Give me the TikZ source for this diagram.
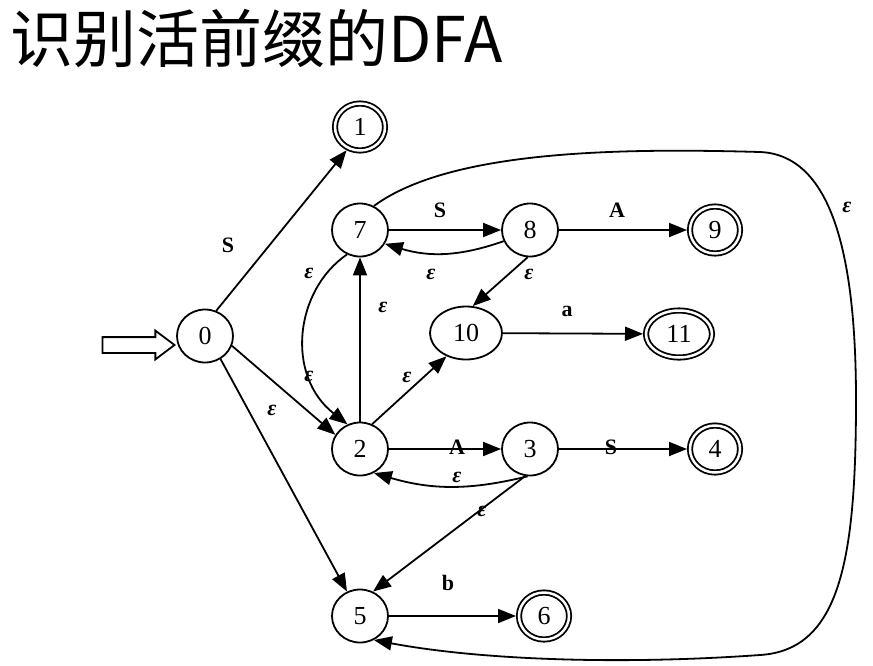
\documentclass[tikz,border=0pt]{standalone}
\usepackage{fontspec}
\setmainfont{Liberation Serif}
\newfontfamily\cjk{Noto Sans CJK SC}
\usepackage{amsmath, amssymb}
\usetikzlibrary{arrows.meta}
\usetikzlibrary{shapes.geometric}
\usetikzlibrary{shapes.arrows}
\def\eps{\textit{ε}}

\begin{document}
\begin{tikzpicture}
	[x=1pt, y=-1pt,
	state/.style={draw, ellipse, line width=1.8pt, minimum width=56pt, minimum height=53pt,
		inner sep=0pt, font=\fontsize{26}{26}\selectfont},
	final/.style={state, double, double distance=2.5pt, minimum width=50pt, minimum height=47pt,
		outer sep=3pt},
	wide/.style={minimum width=72pt},
	trans/.style={-{Triangle[length=18pt,width=14pt]}, line width=1.8pt},
	lbl/.style={font=\fontsize{22}{22}\selectfont\bfseries}]
	\useasboundingbox (0,0) rectangle (873,665);
	\node[anchor=base west, font=\cjk\fontsize{63}{63}\selectfont] (title) at (7,62) {识别活前缀的DFA};
	% states
	\node[state] (n0) at (205,336) {0};
	\node[final] (n1) at (360,127) {1};
	\node[state] (n7) at (360,230) {7};
	\node[state] (n8) at (530,230) {8};
	\node[final] (n9) at (715,230) {9};
	\node[state, wide] (n10) at (466,333) {10};
	\node[final, wide, minimum width=66pt] (n11) at (679,334) {11};
	\node[state] (n2) at (360,449) {2};
	\node[state] (n3) at (530,449) {3};
	\node[final] (n4) at (715,449) {4};
	\node[state] (n5) at (360,616) {5};
	\node[final] (n6) at (544,616) {6};
	\node[single arrow, draw, line width=1.8pt, minimum height=72pt, minimum width=27pt,
		single arrow head extend=6.5pt, single arrow tip angle=74, inner xsep=0pt, inner ysep=7pt,
		anchor=tip] (start) at (176,345) {};
	% transitions
	\draw[trans] (n0.66) -- (n1.-120);
	\draw[trans] (n0.-20) -- (n2.150);
	\draw[trans] (n0.-56) -- (n5.118);
	\draw[trans] (n7.-118) .. controls (295,290) and (285,375) .. (n2.117);
	\draw[trans] (n2.90) -- (n7.-90);
	\draw[trans] (n2.64) -- (n10.-130);
	\draw[trans] (n7) -- (n8);
	\draw[trans] (n8.-157) to[bend left=18] (n7.-29);
	\draw[trans] (n8) -- (n9);
	\draw[trans] (n8.-95) -- (n10.76);
	\draw[trans] (n10) -- (n11);
	\draw[trans] (n2) -- (n3);
	\draw[trans] (n3.-95) to[bend left=15] (n2.-60);
	\draw[trans] (n3.-100) -- (n5.62);
	\draw[trans] (n3) -- (n4);
	\draw[trans] (n5) -- (n6);
	\draw[trans] (n7.60) .. controls (450,150) and (620,148) .. (760,152)
		.. controls (830,155) and (856,250) .. (856,400)
		.. controls (856,560) and (840,650) .. (760,655)
		.. controls (620,665) and (480,660) .. (n5.-60);
	% labels
	\node[lbl] (l01) at (228,245) {S};
	\node[lbl] (l72) at (309,273) {\eps};
	\node[lbl] (l02) at (309,376) {\eps};
	\node[lbl] (l05) at (272,410) {\eps};
	\node[lbl] (l27) at (383,307) {\eps};
	\node[lbl] (l210) at (407,377) {\eps};
	\node[lbl] (l78) at (440,210) {S};
	\node[lbl] (l87) at (431,274) {\eps};
	\node[lbl] (l810) at (529,274) {\eps};
	\node[lbl] (l89) at (617,210) {A};
	\node[lbl] (l1011) at (567,311) {a};
	\node[lbl] (l23) at (457,447) {A};
	\node[lbl] (l34) at (611,447) {S};
	\node[lbl] (l32) at (457,477) {\eps};
	\node[lbl] (l35) at (482,511) {\eps};
	\node[lbl] (l56) at (448,583) {b};
	\node[lbl] (l75) at (847,207) {\eps};
\end{tikzpicture}
\end{document}
